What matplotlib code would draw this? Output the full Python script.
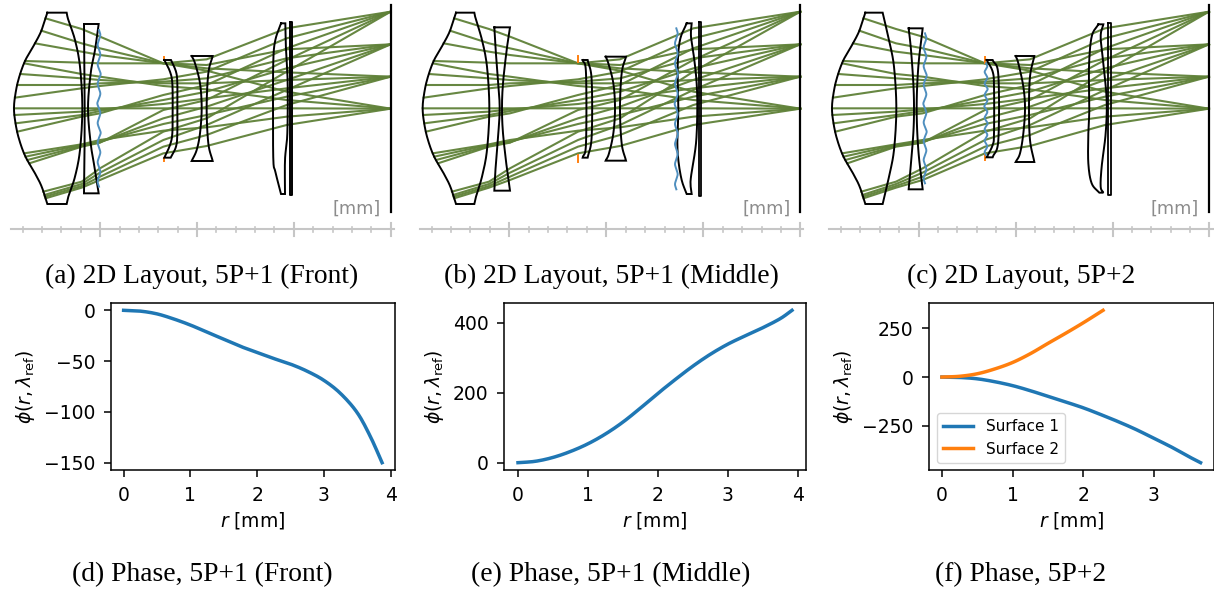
import numpy as np
import matplotlib
matplotlib.use("Agg")
import matplotlib.pyplot as plt

# everything in the layout panels is in crop pixels x3 (panel box = 1215 x 750)

# phase curves
r_d = [0, 0.25, 0.5, 0.75, 1, 1.25, 1.5, 1.75, 2, 2.25, 2.5, 2.75, 3, 3.25, 3.5, 3.7, 3.87]
phi_d = [0, -0.8, -3.5, -8.5, -14.5, -21.5, -28.5, -35.5, -41.5, -47.5, -53, -60, -69, -82, -101, -125, -150]
r_e = [0, 0.25, 0.5, 0.75, 1, 1.25, 1.5, 1.75, 2, 2.25, 2.5, 2.75, 3, 3.25, 3.5, 3.75, 3.92]
phi_e = [0, 4, 15, 32, 54, 82, 116, 156, 198, 238, 276, 310, 339, 363, 386, 412, 436]
r_f1 = [0, 0.25, 0.5, 0.75, 1, 1.25, 1.5, 1.75, 2, 2.25, 2.5, 2.75, 3, 3.25, 3.5, 3.66]
phi_f1 = [0, -2, -9, -24, -44, -70, -99, -128, -158, -193, -230, -270, -315, -360, -410, -440]
r_f2 = [0, 0.25, 0.5, 0.75, 1, 1.25, 1.5, 1.75, 2, 2.28]
phi_f2 = [0, 4, 17, 42, 75, 120, 173, 225, 279, 343]

# rays: y at stations [lens1 exit, lens2, lens3, lens4, lens5, sensor], one block per field
entry_y = [[183, 293, 395, 490, 575],
           [130, 255, 370, 480, 585],
           [92, 222, 345, 470, 590],
           [55, 190, 325, 460, 595]]
exit_y = [[188, 265, 350, 440, 545],
          [155, 255, 345, 438, 552],
          [130, 235, 335, 435, 558],
          [87, 222, 325, 433, 563]]
mid_y = [[190, 258, 340, 428, 505],
         [165, 250, 333, 427, 518],
         [145, 240, 328, 425, 530],
         [110, 230, 325, 420, 540]]
stop_y = [[190, 238, 285, 330, 395],
          [190, 245, 300, 355, 420],
          [190, 250, 312, 372, 440],
          [190, 258, 325, 392, 460]]
l4_y = [[178, 215, 255, 300, 355],
        [195, 235, 275, 320, 375],
        [205, 250, 295, 345, 405],
        [212, 268, 325, 382, 438]]
l5_y = [[85, 115, 145, 180, 215],
        [148, 175, 205, 240, 270],
        [217, 240, 265, 290, 315],
        [275, 300, 325, 350, 375]]
sensor_y = [35, 133, 230, 326]

# lens 1 half outline, mirrored around the axis
l1_front_x = [142, 125, 105, 75, 55, 45, 42]
l1_front_y = [38, 90, 130, 183, 240, 290, 325]
l1_back_x = [200, 205, 225, 240, 247]
l1_back_y = [38, 60, 120, 200, 325]
axis_y = 325

panels = [
    dict(front_dx=0, back_dx=0, top_dx=0,
         ray_x=[245, 300, 490, 620, 860, 1172],
         l2=[[252, 253, 254, 254, 254, 253, 252], [72, 180, 260, 325, 400, 500, 580],
             [296, 285, 272, 264, 272, 285, 296], [72, 150, 220, 325, 430, 510, 580]],
         l3=[[493, 510, 517, 518, 517, 510, 493], [180, 215, 250, 325, 400, 435, 473],
             [513, 528, 532, 532, 532, 528, 512], [180, 215, 250, 325, 400, 440, 473]],
         l4=[[575, 585, 600, 605, 600, 590, 575], [168, 190, 250, 325, 400, 450, 483],
             [638, 625, 620, 625, 638], [168, 220, 325, 430, 483]],
         l5=[[843, 826, 820, 819, 820, 826, 843], [70, 120, 180, 325, 480, 515, 582],
             [856, 858, 863, 862, 855, 855], [70, 150, 250, 400, 480, 582]],
         filt=[869, 877, 67, 585], filt_lw=1.4, stop=[492, 170, 180, 473, 483], sensor=[1172, 15, 637],
         meta=[[297, 90, 560]], mm_x=1143,
         ruler=[33, 1183], major=[300, 592, 882, 1172], minor0=68),
    dict(front_dx=11, back_dx=6, top_dx=8,
         ray_x=[252, 315, 519, 645, 865, 1186],
         l2=[[268, 272, 280, 284, 280, 272, 268], [82, 150, 250, 325, 400, 500, 572],
             [315, 305, 294, 291, 294, 305, 315], [82, 150, 250, 325, 400, 500, 572]],
         l3=[[533, 543, 543, 533], [180, 220, 430, 473],
             [548, 560, 560, 548], [180, 240, 410, 473]],
         l4=[[602, 610, 625, 630, 625, 612, 602], [170, 190, 250, 325, 400, 460, 482],
             [663, 650, 645, 650, 663], [170, 220, 325, 430, 482]],
         l5=[[845, 825, 818, 820, 817, 820, 830, 845], [70, 120, 200, 325, 420, 480, 540, 582],
             [860, 858, 868, 875, 877, 873, 858, 857, 860], [70, 110, 180, 250, 325, 430, 530, 560, 582]],
         filt=[881, 889, 65, 588], filt_lw=1.3, stop=[519, 168, 187, 465, 485], sensor=[1186, 15, 637],
         meta=[[814, 85, 568]], mm_x=1156,
         ruler=[45, 1195], major=[313, 604, 895, 1186], minor0=80),
    dict(front_dx=24, back_dx=12, top_dx=18,
         ray_x=[258, 338, 525, 660, 885, 1197],
         l2=[[296, 303, 310, 312, 310, 302, 296], [85, 150, 250, 325, 400, 500, 568],
             [338, 325, 320, 325, 338], [85, 200, 325, 450, 568]],
         l3=[[530, 548, 552, 552, 548, 530], [180, 215, 260, 400, 435, 472],
             [548, 565, 565, 548], [180, 225, 420, 472]],
         l4=[[617, 625, 640, 645, 640, 630, 617], [168, 190, 260, 325, 400, 460, 486],
             [673, 660, 657, 660, 673], [168, 230, 325, 420, 486]],
         l5=[[865, 845, 837, 838, 835, 835, 845, 868], [73, 110, 200, 325, 400, 490, 550, 578],
             [880, 872, 880, 890, 887, 875, 872, 880], [73, 110, 190, 300, 400, 500, 560, 578]],
         filt=[894, 902, 68, 585], filt_lw=1.3, stop=[524, 172, 190, 462, 480], sensor=[1197, 15, 637],
         meta=[[345, 100, 550], [528, 190, 465]], mm_x=1167,
         ruler=[58, 1208], major=[326, 617, 908, 1198], minor0=93),
]
# wiggle of the metasurface profile, one value per sample along its height
wave = [0, 4, 0, -4, 0, 4, 0, -4, 0, 5, 0, -4, 0, 4, 0, -5, 0, 4, 0, -4, 0, 5, 0, -4, 0, 4, 0, -4, 0, 4, 0, -4, 0]

captions_top = ["(a) 2D Layout, 5P+1 (Front)", "(b) 2D Layout, 5P+1 (Middle)", "(c) 2D Layout, 5P+2"]
captions_bot = ["(d) Phase, 5P+1 (Front)", "(e) Phase, 5P+1 (Middle)", "(f) Phase, 5P+2"]
caption_x = [202, 611, 1021]

W, H = 1214, 592
BLACK_LW = 1.4
RAY = "#5f8138"
TICK_FS = 13.5


def smooth(xs, ys, n=12):
    # catmull-rom through the read points, so the lenses don't look faceted
    p = np.column_stack([xs, ys]).astype(float)
    p = np.vstack([2 * p[0] - p[1], p, 2 * p[-1] - p[-2]])
    out = []
    for i in range(1, len(p) - 2):
        for t in np.linspace(0, 1, n, endpoint=False):
            out.append(0.5 * (2 * p[i] + (p[i + 1] - p[i - 1]) * t
                              + (2 * p[i - 1] - 5 * p[i] + 4 * p[i + 1] - p[i + 2]) * t ** 2
                              + (3 * p[i] - p[i - 1] - 3 * p[i + 1] + p[i + 2]) * t ** 3))
    out.append(p[-2])
    out = np.array(out)
    return out[:, 0], out[:, 1]


def draw_lens(ax, left_x, left_y, right_x, right_y):
    lx, ly = smooth(left_x, left_y)
    rx, ry = smooth(right_x, right_y)
    ax.plot(np.r_[lx, rx[::-1], lx[0]], np.r_[ly, ry[::-1], ly[0]],
            color="k", lw=BLACK_LW, solid_joinstyle="miter", zorder=4)


def draw_layout(ax, p):
    # front and back of lens 1 are blended between apex and rim shifts
    fy = np.array(l1_front_y, dtype=float)
    fx = np.array(l1_front_x, dtype=float) + p["front_dx"]
    by = np.array(l1_back_y, dtype=float)
    bx = np.array(l1_back_x, dtype=float) + p["back_dx"]
    bx[:2] += p["top_dx"] - p["back_dx"]

    for f in range(4):
        for k in range(5):
            y0 = entry_y[f][k]
            x0 = np.interp(abs(y0 - axis_y), axis_y - fy[::-1], fx[::-1])
            xs = [x0] + p["ray_x"]
            ys = [y0, exit_y[f][k], mid_y[f][k], stop_y[f][k], l4_y[f][k], l5_y[f][k], sensor_y[f]]
            ax.plot(xs, ys, color=RAY, lw=1.5, alpha=0.95, zorder=2)

    left_x = np.r_[fx, fx[-2::-1]]
    left_y = np.r_[fy, 2 * axis_y - fy[-2::-1]]
    right_x = np.r_[bx, bx[-2::-1]]
    right_y = np.r_[by, 2 * axis_y - by[-2::-1]]
    draw_lens(ax, left_x, left_y, right_x, right_y)
    draw_lens(ax, p["l2"][0], p["l2"][1], p["l2"][2], p["l2"][3])
    draw_lens(ax, p["l3"][0], p["l3"][1], p["l3"][2], p["l3"][3])
    draw_lens(ax, p["l4"][0], p["l4"][1], p["l4"][2], p["l4"][3])
    draw_lens(ax, p["l5"][0], p["l5"][1], p["l5"][2], p["l5"][3])

    # cover glass
    x1, x2, y1, y2 = p["filt"]
    ax.plot([x1, x2, x2, x1, x1], [y1, y1, y2, y2, y1], color="k", lw=p["filt_lw"], zorder=4)

    # sensor
    sx, s1, s2 = p["sensor"]
    ax.plot([sx, sx], [s1, s2], color="k", lw=1.6, zorder=4)

    # aperture stop
    st = p["stop"]
    ax.plot([st[0], st[0]], [st[1], st[2]], color="#ff7f0e", lw=1.4, zorder=3)
    ax.plot([st[0], st[0]], [st[3], st[4]], color="#ff7f0e", lw=1.4, zorder=3)

    # metasurfaces
    for mx, m1, m2 in p["meta"]:
        my = np.linspace(m1, m2, len(wave))
        wx, wy = smooth(mx + np.array(wave), my, n=5)
        ax.plot(wx, wy, color="#4f8fbf", lw=1.4, zorder=5)

    # scale bar
    ax.plot(p["ruler"], [688, 688], color="#c6c6c6", lw=1.5, zorder=1)
    for mx in p["major"]:
        ax.plot([mx, mx], [668, 708], color="#c6c6c6", lw=1.5, zorder=1)
    for i in range(20):
        mx = p["minor0"] + i * (p["major"][-1] - p["minor0"]) / 19.0
        if min(abs(mx - m) for m in p["major"]) > 15:
            ax.plot([mx, mx], [680, 696], color="#c6c6c6", lw=1.2, zorder=1)

    ax.text(p["mm_x"], 625, "[mm]", color="#8c8c8c", fontsize=12.7, ha="right", va="center")
    ax.set_xlim(0, 1215)
    ax.set_ylim(750, 0)
    ax.axis("off")


def draw_phase(ax, curves, labels=None):
    colors = ["#1f77b4", "#ff7f0e"]
    for i, (r, phi) in enumerate(curves):
        x, y = smooth(r, phi)
        ax.plot(x, y, color=colors[i], lw=2.5, label=labels[i] if labels else None)
    ax.set_xlabel(r"$r$ [mm]", fontsize=13.5, labelpad=4)
    ax.set_ylabel(r"$\phi(r, \lambda_{\mathrm{ref}})$", fontsize=13.5, labelpad=5)
    ax.tick_params(labelsize=TICK_FS, length=5.2, width=1.1, pad=6)
    for s in ax.spines.values():
        s.set_linewidth(1.1)


def main():
    fig = plt.figure(figsize=(W / 100, H / 100), dpi=100)

    for i, p in enumerate(panels):
        ax = fig.add_axes([405 * i / W, 1 - 250 / H, 405 / W, 250 / H])
        draw_layout(ax, p)

    boxes = [(110.7, 395), (504.3, 805.7), (929, 1213.5)]
    top, bottom = 302.7, 470.3
    axes = [fig.add_axes([l / W, 1 - bottom / H, (r - l) / W, (bottom - top) / H]) for l, r in boxes]
    draw_phase(axes[0], [(r_d, phi_d)])
    axes[0].set_yticks([0, -50, -100, -150])
    draw_phase(axes[1], [(r_e, phi_e)])
    axes[1].set_yticks([0, 200, 400])
    draw_phase(axes[2], [(r_f1, phi_f1), (r_f2, phi_f2)], ["Surface 1", "Surface 2"])
    axes[2].set_yticks([-250, 0, 250])
    axes[2].set_xticks([0, 1, 2, 3])
    axes[2].legend(loc="lower left", fontsize=11)

    for i in range(3):
        fig.text(caption_x[i] / W, 1 - 276 / H, captions_top[i], family="Liberation Serif",
                 fontsize=19.8, ha="center", va="center")
        fig.text(caption_x[i] / W, 1 - 575 / H, captions_bot[i], family="Liberation Serif",
                 fontsize=19.8, ha="center", va="center")

    fig.savefig("out.png", dpi=100)


if __name__ == "__main__":
    main()
